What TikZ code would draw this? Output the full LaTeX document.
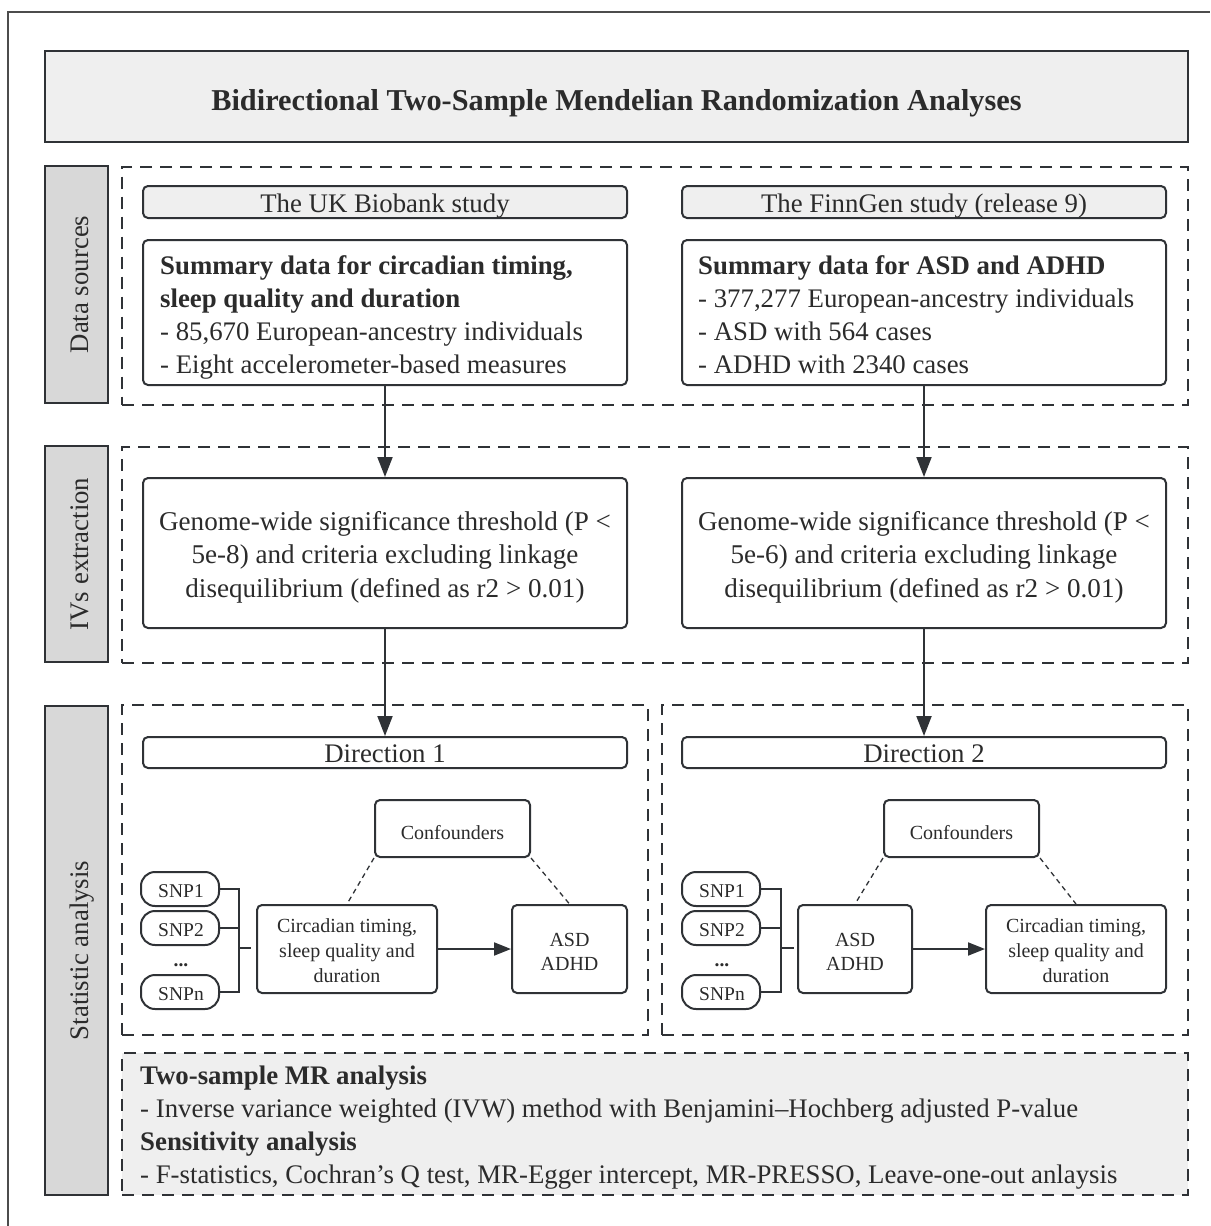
\documentclass[tikz,border=0pt]{standalone}
\usepackage{fontspec}
\setmainfont{Liberation Serif}
\usetikzlibrary{arrows.meta}
\definecolor{ink}{HTML}{2F3236}
\definecolor{txt}{HTML}{2B2B2B}
\definecolor{lightfill}{HTML}{EFEFEF}
\definecolor{sidefill}{HTML}{D8D8D8}
\begin{document}
\begin{tikzpicture}[x=1pt,y=-1pt,
  bx/.style={draw=ink, line width=2pt, fill=white, rounded corners=5pt, inner sep=0pt},
  titlebox/.style={draw=ink, line width=2pt, fill=lightfill, inner sep=0pt},
  hdr/.style={bx, fill=lightfill},
  sidebox/.style={draw=ink, line width=2pt, fill=sidefill, inner sep=0pt},
  region/.style={draw=ink, line width=2pt, dash pattern=on 12pt off 8pt, inner sep=0pt},
  snp/.style={bx, rounded corners=14pt, minimum width=78pt, minimum height=34pt},
  lbl/.style={inner sep=0pt, text=txt},
  big/.style={lbl, font=\fontsize{26.8}{33}\selectfont},
  sml/.style={lbl, font=\fontsize{20}{25}\selectfont},
  snpt/.style={lbl, font=\fontsize{19.5}{24}\selectfont, anchor=base},
  link/.style={draw=ink, line width=2pt},
  arr/.style={link, -{Triangle[length=20pt,width=15pt]}},
  sarr/.style={link, -{Triangle[length=17pt,width=13pt]}},
  dotl/.style={draw=ink, line width=1.3pt, dash pattern=on 5pt off 4pt},
]
\useasboundingbox (0,0) rectangle (1210,1226);
% outer frame
\draw[line width=1.3pt, color=gray!60!black] (8,1226) -- (8,12) -- (1210,12);

% title
\node[titlebox, minimum width=1143pt, minimum height=91pt] (title) at (616.5,96.5) {};
\node[lbl, font=\fontsize{30.3}{36}\selectfont\bfseries, anchor=base] (titlet) at (616.5,110)
  {Bidirectional Two-Sample Mendelian Randomization Analyses};

% side labels
\node[sidebox, minimum width=63pt, minimum height=237pt] (lds) at (76.5,284.5) {};
\node[sidebox, minimum width=63pt, minimum height=216pt] (liv) at (76.5,554) {};
\node[sidebox, minimum width=63pt, minimum height=489pt] (lsa) at (76.5,950.5) {};
\node[big, rotate=90, anchor=base] (ldst) at (88.3,284.5) {Data sources};
\node[big, rotate=90, anchor=base] (livt) at (88.3,554) {IVs extraction};
\node[big, rotate=90, anchor=base] (lsat) at (88.3,950.5) {Statistic analysis};

% dashed regions
\node[region, minimum width=1066pt, minimum height=238pt] (rds) at (655,285.5) {};
\node[region, minimum width=1066pt, minimum height=216pt] (riv) at (655,555) {};
\node[region, minimum width=526pt, minimum height=330pt] (rd1) at (385,870) {};
\node[region, minimum width=526pt, minimum height=330pt] (rd2) at (925,870) {};
\node[region, fill=lightfill, minimum width=1066pt, minimum height=142pt] (rmr) at (655,1124) {};
\node[big, anchor=north west, align=left] (rmrt) at (140,1060.9)
  {\strut\textbf{Two-sample MR analysis}\\
   - Inverse variance weighted (IVW) method with Benjamini--Hochberg adjusted P-value\\
   \textbf{Sensitivity analysis}\\
   - F-statistics, Cochran's Q test, MR-Egger intercept, MR-PRESSO, Leave-one-out anlaysis};

% data sources
\node[hdr, minimum width=484pt, minimum height=32pt] (ukb) at (385,202) {};
\node[hdr, minimum width=484pt, minimum height=32pt] (fin) at (924,202) {};
\node[big, anchor=base] (ukbt) at (385,212) {The UK Biobank study};
\node[big, anchor=base] (fint) at (924,212) {The FinnGen study (release 9)};
\node[bx, minimum width=484pt, minimum height=145pt] (sumL) at (385,312.5) {};
\node[bx, minimum width=484pt, minimum height=145pt] (sumR) at (924,312.5) {};
\node[big, anchor=north west, align=left] (sumLt) at (160,250.9)
  {\strut\textbf{Summary data for circadian timing,}\\
   \textbf{sleep quality and duration}\\
   - 85,670 European-ancestry individuals\\
   - Eight accelerometer-based measures};
\node[big, anchor=north west, align=left] (sumRt) at (698,250.9)
  {\strut\textbf{Summary data for ASD and ADHD}\\
   - 377,277 European-ancestry individuals\\
   - ASD with 564 cases\\
   - ADHD with 2340 cases};

% IV extraction
\node[bx, minimum width=484pt, minimum height=150pt] (ivL) at (385,553) {};
\node[bx, minimum width=484pt, minimum height=150pt] (ivR) at (924,553) {};
\node[lbl, font=\fontsize{27.1}{33.5}\selectfont, anchor=north, align=center] (ivLt) at (385,506.5)
  {\strut Genome-wide significance threshold (P <\\
   5e-8) and criteria excluding linkage\\
   disequilibrium (defined as r2 > 0.01)};
\node[lbl, font=\fontsize{27.1}{33.5}\selectfont, anchor=north, align=center] (ivRt) at (924,506.5)
  {\strut Genome-wide significance threshold (P <\\
   5e-6) and criteria excluding linkage\\
   disequilibrium (defined as r2 > 0.01)};

% direction headers
\node[bx, minimum width=484pt, minimum height=31pt] (dir1) at (385,752.5) {};
\node[bx, minimum width=484pt, minimum height=31pt] (dir2) at (924,752.5) {};
\node[big, anchor=base] (dir1t) at (385,762) {Direction 1};
\node[big, anchor=base] (dir2t) at (924,762) {Direction 2};

\draw[arr] (sumL.south) -- (ivL.north);
\draw[arr] (sumR.south) -- (ivR.north);
\draw[arr] (ivL.south) -- (dir1.north);
\draw[arr] (ivR.south) -- (dir2.north);

% direction 1 diagram
\node[bx, minimum width=155pt, minimum height=57pt] (conf1) at (452.5,828.5) {};
\node[sml, anchor=base] (conf1t) at (452.5,839) {Confounders};
\node[bx, minimum width=180pt, minimum height=88pt] (exp1) at (347,949) {};
\node[sml, anchor=north, align=center] (exp1t) at (347,914.5) {\strut Circadian timing,\\sleep quality and\\duration};
\node[bx, minimum width=115pt, minimum height=88pt] (out1) at (569.5,949) {};
\node[lbl, font=\fontsize{20}{24}\selectfont, anchor=north, align=center] (out1t) at (569.5,929.2) {\strut ASD\\ADHD};
\node[snp] (s11) at (180,889) {};
\node[snp] (s12) at (180,928) {};
\node[snp] (s1n) at (180,992) {};
\node[snpt] (s11t) at (181,897.5) {SNP1};
\node[snpt] (s12t) at (181,936.5) {SNP2};
\node[snpt] (s1nt) at (181,1000.5) {SNPn};
\node[snpt, font=\fontsize{19.5}{24}\selectfont\bfseries] (s1d) at (181,966) {...};
\coordinate (b1) at (239,948);
\coordinate (b1s) at (251,948);
\draw[link] (s11.east) -| (b1);
\draw[link] (s1n.east) -| (b1);
\draw[link] (s12.east) -- (s12.east -| b1);
\draw[link] (b1) -- (b1s);
\draw[sarr] (exp1.east) -- (out1.west);
\draw[dotl] (conf1.south west) -- (exp1.north);
\draw[dotl] (conf1.south east) -- (out1.north);

% direction 2 diagram
\node[bx, minimum width=155pt, minimum height=57pt] (conf2) at (961.5,828.5) {};
\node[sml, anchor=base] (conf2t) at (961.5,839) {Confounders};
\node[bx, minimum width=114pt, minimum height=88pt] (exp2) at (855,949) {};
\node[lbl, font=\fontsize{20}{24}\selectfont, anchor=north, align=center] (exp2t) at (855,929.2) {\strut ASD\\ADHD};
\node[bx, minimum width=180pt, minimum height=88pt] (out2) at (1076,949) {};
\node[sml, anchor=north, align=center] (out2t) at (1076,914.5) {\strut Circadian timing,\\sleep quality and\\duration};
\node[snp] (s21) at (721,889) {};
\node[snp] (s22) at (721,928) {};
\node[snp] (s2n) at (721,992) {};
\node[snpt] (s21t) at (722,897.5) {SNP1};
\node[snpt] (s22t) at (722,936.5) {SNP2};
\node[snpt] (s2nt) at (722,1000.5) {SNPn};
\node[snpt, font=\fontsize{19.5}{24}\selectfont\bfseries] (s2d) at (722,966) {...};
\coordinate (b2) at (781,948);
\coordinate (b2s) at (794,948);
\draw[link] (s21.east) -| (b2);
\draw[link] (s2n.east) -| (b2);
\draw[link] (s22.east) -- (s22.east -| b2);
\draw[link] (b2) -- (b2s);
\draw[sarr] (exp2.east) -- (out2.west);
\draw[dotl] (conf2.south west) -- (exp2.north);
\draw[dotl] (conf2.south east) -- (out2.north);
\end{tikzpicture}
\end{document}
